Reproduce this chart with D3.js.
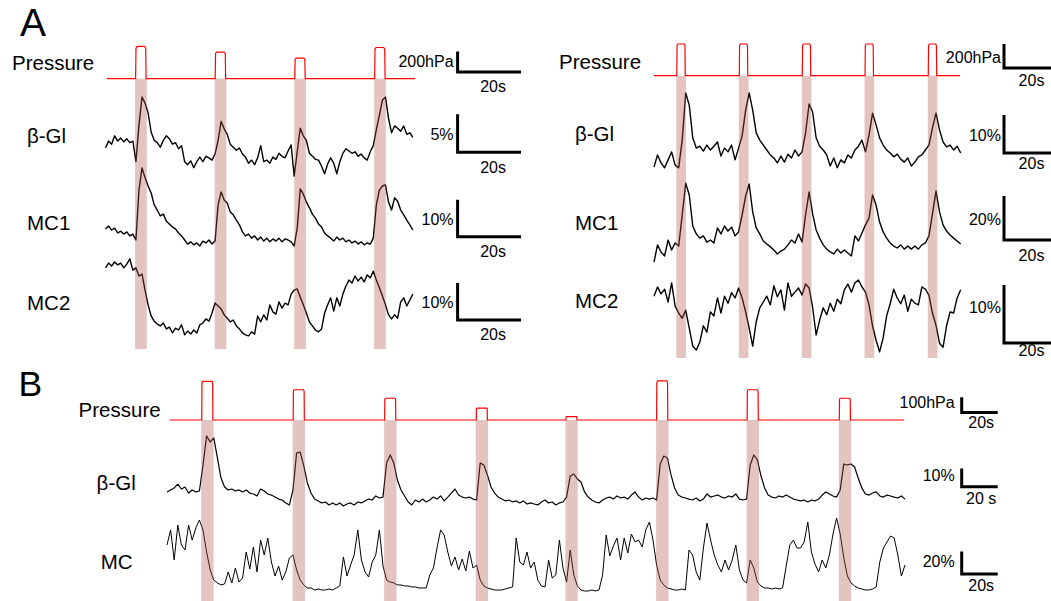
<!DOCTYPE html>
<html>
<head>
<meta charset="utf-8">
<script src="https://cdn.jsdelivr.net/npm/d3@7"></script>
<style>
body { margin: 0; background: #fff; }
svg { display: block; font-family: "Liberation Sans", Arial, sans-serif; }
</style>
</head>
<body>
<svg id="fig" width="1051" height="601"></svg>
<script>
"use strict";

// ---- panel A, left recording (sample interval 0.96 s, values in % dF/F) ----
const aLeftPulseStart = [9.5, 34.6, 59.7, 84.9];   // s
const aLeftPulseAmp = [315, 260, 200, 305];        // hPa
const aLeftBeta = [
	2.9,3.8,3.4,4.5,3.8,4.2,3.7,4.1,3.6,3.8, 1.1,5.9,9.6,8.8,7.5,5.0,3.9,3.6,3.0,3.9,
	4.5,4.1,3.4,3.6,2.8,3.2,1.1,0.7,1.2,0.3, 1.1,1.7,1.1,1.8,1.6,1.3,2.1,3.9,6.4,5.4,
	4.7,3.4,3.0,2.6,2.9,2.1,1.7,0.9,1.3,0.7, 1.6,3.2,1.1,1.3,0.9,1.7,1.4,2.2,1.8,1.6,
	2.5,3.3,-0.8,2.4,5.5,4.5,3.9,2.2,1.8,1.4, 1.3,0.5,-0.5,0.8,1.6,0.9,-0.5,1.1,2.2,2.8,
	2.5,2.2,2.4,1.8,2.1,1.6,1.3,2.4,3.2,5.3, 7.2,9.2,9.6,6.8,4.9,5.8,5.5,5.1,5.8,4.7,
	4.9,4.3];
const aLeftMC1 = [
	5.7,6.5,5.4,5.9,4.6,5.1,4.3,4.9,3.8,4.3, 2.7,16.2,22.2,19.5,17.3,15.4,12.2,10.8,9.2,9.7,
	7.8,7.0,6.2,5.7,4.6,3.8,2.7,1.6,2.2,1.4, 1.9,1.1,2.4,1.9,2.7,1.6,2.4,12.2,15.7,13.5,
	12.7,10.3,9.5,8.1,6.8,4.9,3.8,4.3,3.2,3.8, 2.7,3.5,2.4,3.2,2.2,3.0,2.4,3.2,2.2,3.0,
	2.7,2.2,1.1,5.9,16.5,15.1,13.0,11.4,9.7,8.6, 7.0,6.2,4.6,3.8,3.2,2.4,3.5,2.7,3.2,2.2,
	2.7,1.9,2.4,1.6,2.2,1.4,1.9,1.6,3.2,12.2, 16.2,17.3,17.6,13.0,10.8,14.1,13.2,10.8,9.5,8.1,
	6.8,5.4];
const aLeftMC2 = [
	19.5,20.8,20.0,21.1,20.3,20.8,19.5,20.5,21.9,18.9, 19.5,17.3,17.8,13.5,9.5,6.5,5.1,4.3,3.8,4.6,
	3.0,3.5,1.9,3.2,2.7,4.1,1.4,2.4,1.6,2.7, 1.9,4.1,4.6,5.7,5.1,7.3,10.0,9.2,8.4,6.8,
	5.9,4.9,5.4,3.8,3.0,1.9,1.4,1.1,2.2,1.6, 6.5,4.9,6.8,5.4,9.5,7.6,7.0,10.3,8.6,10.0,
	9.5,12.4,13.5,13.8,11.6,9.5,7.3,4.9,3.8,2.7, 2.2,3.0,7.3,9.5,11.4,7.8,11.4,9.2,12.4,14.6,
	16.2,15.4,17.3,15.9,17.0,15.7,17.6,16.8,18.6,16.2, 14.1,11.9,9.5,6.8,5.7,6.8,5.9,10.3,11.4,9.2,
	10.8,12.4];

// ---- panel A, right recording (sample interval 1.5 s) ----
const aRightPulseStart = [9.7, 36.3, 63.1, 89.8, 116.7];
const aRightPulseAmp = [264, 264, 264, 264, 264];
const aRightBeta = [
	3.4,6.6,4.5,3.2,5.3,7.4,3.9,3.2,10.5,22.9, 19.7,11.1,8.4,8.9,7.6,9.2,7.9,8.9,10.0,6.3,
	8.4,7.4,9.2,5.3,8.4,11.6,18.4,22.9,18.4,12.4, 10.5,9.2,7.9,6.6,5.8,4.5,6.3,4.7,6.8,5.8,
	7.9,6.3,7.4,12.4,20.0,17.9,11.1,8.9,7.9,6.6, 3.7,5.8,3.2,5.3,4.5,6.6,5.8,7.9,8.9,10.5,
	7.4,11.8,17.6,14.5,11.1,9.2,7.9,7.1,6.1,6.8, 5.5,4.7,5.8,3.7,4.7,6.1,6.6,7.9,9.2,13.7,
	17.6,13.2,10.0,8.7,9.2,7.9,8.9,7.1];
const aRightMC1 = [
	3.6,11.4,8.2,6.4,13.6,9.1,12.3,10.9,25.0,39.5, 34.1,20.0,16.4,14.5,15.5,12.7,13.6,12.3,19.1,16.4,
	20.0,17.7,19.5,15.5,17.3,25.0,33.6,39.1,26.4,19.1, 16.4,13.2,11.8,10.5,9.1,7.3,8.6,9.5,11.4,13.6,
	12.3,16.4,12.7,25.0,35.5,25.5,18.2,14.5,11.4,9.5, 8.2,7.3,9.5,7.7,9.1,7.7,6.4,15.5,13.2,16.8,
	20.5,23.6,34.1,29.5,21.8,17.3,14.5,12.3,10.9,10.0, 11.4,9.5,10.9,9.5,10.9,9.5,11.4,12.3,15.5,25.5,
	35.9,26.4,20.5,17.7,15.9,14.5,13.2,11.8];
const aRightMC2 = [
	11.0,12.6,11.4,12.2,10.0,13.3,9.3,8.1,7.2,8.6, 5.5,2.4,1.7,3.1,5.9,4.8,8.3,7.6,10.7,8.1,
	11.0,9.8,11.6,10.7,12.4,10.7,8.3,5.5,2.4,6.6, 9.0,10.0,11.0,9.5,12.8,10.9,12.1,8.6,13.3,11.0,
	11.7,12.4,11.2,13.1,12.4,9.1,4.3,6.9,9.0,7.8, 9.8,8.4,10.5,9.7,12.1,13.1,11.7,13.3,13.8,12.6,
	11.7,9.5,5.9,3.4,1.4,3.8,7.6,9.7,12.2,10.7, 9.7,11.2,8.4,10.5,9.8,9.5,12.6,12.2,11.2,8.1,
	6.0,2.9,2.2,5.9,8.3,8.1,10.7,12.1];

// ---- panel B (sample interval 2 s) ----
const bPulseStart = [19.3, 70.1, 120.9, 171.8, 221.6, 272.0, 322.3, 373.5];
const bPulseAmp = [254, 199, 143, 78, 22, 257, 199, 143];
const bBeta = [
	4.4,5.5,6.6,8.7,6.0,7.1,3.8,5.5,4.4,4.9, 19.1,35.0,31.7,33.9,23.0,12.0,7.1,5.5,6.0,4.9,
	5.5,4.4,5.5,3.8,3.3,2.2,6.0,4.9,3.3,2.7, 1.6,0.5,0,-1.6,-2.7,5.5,25.7,26.2,18.6,9.3,
	3.8,0.5,-0.5,-1.6,-1.1,-2.7,-1.6,-2.7,-1.6,-3.3, -2.2,-1.6,-2.7,-1.1,-1.6,-0.5,0.5,0,2.2,1.1,
	1.6,20.2,24.6,20.2,10.9,5.5,2.2,-1.1,-2.7,0, -1.1,0.5,-1.1,0,1.6,0.5,2.2,-0.5,1.6,3.8,
	6.0,2.7,1.6,1.1,1.6,0.5,0,20.2,19.1,13.7, 7.1,3.8,1.6,0.5,-0.5,0,-1.1,-0.5,-1.6,-0.5,
	-2.2,-1.6,-2.2,-2.7,-1.1,0,-1.6,-1.1,-2.7,-1.6, -1.1,1.6,13.1,14.2,11.5,9.8,4.4,1.6,0,-1.1,
	-1.6,0,1.1,1.6,0.5,2.2,1.1,1.6,0.5,2.7, 4.4,1.6,0,1.1,0.5,1.1,0,19.7,24.0,23.0,
	13.7,6.6,2.7,1.6,1.1,0.5,0,1.1,-0.5,0.5, 3.3,1.6,2.2,2.7,1.6,1.1,2.2,1.6,3.3,0.5,
	0,0.5,19.1,24.6,21.9,13.1,6.6,2.7,1.6,1.1, 2.2,1.6,2.7,1.6,0.5,0,-0.5,0,-1.1,0,
	-0.5,0.5,2.7,4.4,3.3,2.2,1.6,5.5,19.7,19.1, 19.7,18.0,12.0,6.6,3.3,2.7,3.8,4.4,2.2,1.6,
	2.7,2.2,1.6,1.1,2.2,0.5];
const bMC = [
	40.2,53.6,26.8,58.0,40.2,35.7,58.0,44.6,55.4,62.5, 53.6,33.9,17.9,8.9,6.3,4.5,5.4,16.1,6.3,19.6,
	7.1,10.7,33.9,18.8,38.4,16.1,44.6,31.3,46.4,25.0, 12.5,21.4,8.9,16.1,28.6,31.3,17.9,8.9,4.5,1.8,
	1.8,0,0.9,0,0,0.9,0,1.8,3.6,29.5, 12.5,22.3,31.3,53.6,26.8,16.1,11.6,25.0,31.3,53.6,
	21.4,8.9,7.1,6.3,4.5,4.5,3.6,3.6,2.7,2.7, 1.8,1.8,1.8,13.4,19.6,37.5,53.6,49.1,33.9,21.4,
	29.5,17.9,27.7,17.0,34.8,19.6,22.3,8.9,3.6,1.8, 0.9,0,0,0,0.9,1.8,2.7,46.4,25.0,22.3,
	33.9,19.6,25.0,8.9,3.6,2.7,26.8,10.7,13.4,44.6, 19.6,7.1,35.7,13.4,3.6,0,-0.9,-0.9,0,-0.9,
	0,13.4,49.1,30.4,39.3,46.4,26.8,46.4,33.0,50.0, 42.9,44.6,38.4,53.6,60.7,44.6,22.3,8.9,4.5,1.8,
	0.9,0,0,0.9,0,35.7,31.3,16.1,8.9,37.5, 59.8,44.6,31.3,22.3,16.1,26.8,17.9,26.8,40.2,17.9,
	8.9,6.3,26.8,19.6,7.1,3.6,1.8,1.8,0.9,1.8, 0.9,1.8,21.4,40.2,44.6,37.5,37.5,42.9,60.7,33.9,
	23.2,16.1,26.8,19.6,31.3,50.0,64.3,50.0,28.6,12.5, 6.3,3.6,1.8,0.9,0,0,0.9,2.7,25.0,37.5,
	42.9,48.2,46.4,31.3,12.5,22.3];

const panels = [
	{
		x0: 105.5, pxPerS: 3.17, bx: 457.6, textGap: 4, secShift: 3.8,
		recStart: 0.4, recEnd: 97.7, pulseDur: 3.3, pulseStart: aLeftPulseStart, pulseAmp: aLeftPulseAmp,
		band: [78.6, 349],
		pressure: { y0: 78.6, bar: 200, barPx: 20.4, barTop: 51.5, text: '200hPa', textY: 61, secY: 86.4, labelX: 12, labelY: 62.7 },
		traces: [
			{ name: 'β-Gl', values: aLeftBeta, dt: 0.96, y0: 170, bar: 5, barPx: 38, barTop: 114.2, labelX: 27, labelY: 135.6, text: '5%', textY: 134, secY: 167.8 },
			{ name: 'MC1', values: aLeftMC1, dt: 0.96, y0: 250, bar: 10, barPx: 37, barTop: 199.8, labelX: 27, labelY: 222.5, text: '10%', textY: 219.2, secY: 251.4 },
			{ name: 'MC2', values: aLeftMC2, dt: 0.96, y0: 340, bar: 10, barPx: 37, barTop: 282.9, labelX: 27, labelY: 302.2, text: '10%', textY: 302.2, secY: 334.4 }
		]
	},
	{
		x0: 654, pxPerS: 2.35, bx: 1004, textGap: 3, secShift: 4,
		recStart: 0, recEnd: 130.2, pulseDur: 3.6, pulseStart: aRightPulseStart, pulseAmp: aRightPulseAmp,
		band: [75.7, 358],
		pressure: { y0: 75.7, bar: 200, barPx: 24, barTop: 44, text: '200hPa', textY: 57, secY: 80, labelX: 559, labelY: 61.7 },
		traces: [
			{ name: 'β-Gl', values: aRightBeta, dt: 1.5, y0: 180, bar: 10, barPx: 38, barTop: 115, labelX: 575, labelY: 133.3, text: '10%', textY: 135, secY: 163 },
			{ name: 'MC1', values: aRightMC1, dt: 1.5, y0: 270, bar: 20, barPx: 44, barTop: 196, labelX: 575, labelY: 222, text: '20%', textY: 219, secY: 255 },
			{ name: 'MC2', values: aRightMC2, dt: 1.5, y0: 360, bar: 10, barPx: 58, barTop: 285, labelX: 575, labelY: 300, text: '10%', textY: 307, secY: 350 }
		]
	},
	{
		x0: 167, pxPerS: 1.8, bx: 961.7, textGap: 7, secShift: 1.5,
		recStart: 1.4, recEnd: 409.5, pulseDur: 6.2, pulseStart: bPulseStart, pulseAmp: bPulseAmp,
		band: [420, 601],
		pressure: { y0: 420, bar: 100, barPx: 15.2, barTop: 397.3, text: '100hPa', textY: 402.4, secY: 422.7, labelX: 78.6, labelY: 409.2 },
		traces: [
			{ name: 'β-Gl', values: bBeta, dt: 2, y0: 500, bar: 10, barPx: 18.3, barTop: 468.5, labelX: 96.6, labelY: 482, text: '10%', textY: 475.3, secY: 498.3, secText: '20 s', sw: 1.2 },
			{ name: 'MC', values: bMC, dt: 2, y0: 590, bar: 20, barPx: 22.4, barTop: 551.5, labelX: 100.7, labelY: 561.7, text: '20%', textY: 561.7, secY: 585.4, sw: 1 }
		]
	}
];

const svg = d3.select('#fig');

// step waveform of the pressure pulses, slightly rounded at the top corners
function pulsePoints(p) {
	const pts = [[p.recStart, 0]];
	p.pulseStart.forEach((s, i) => {
		const a = p.pulseAmp[i], d = p.pulseDur;
		pts.push([s, 0], [s + 0.12, a * 0.95], [s + 0.45, a], [s + d - 0.45, a], [s + d - 0.12, a * 0.95], [s + d, 0]);
	});
	pts.push([p.recEnd, 0]);
	return pts;
}

function scaleBar(g, p, top, len, barLen, text, textY, secText, secY) {
	g.append('path')
		.attr('d', `M${p.bx},${top}V${top + len}H${p.bx + barLen}`)
		.attr('fill', 'none')
		.attr('stroke', '#000')
		.attr('stroke-width', 3);
	g.append('text')
		.attr('x', p.bx - p.textGap)
		.attr('y', textY)
		.attr('text-anchor', 'end')
		.attr('dominant-baseline', 'central')
		.attr('font-size', 16)
		.text(text);
	g.append('text')
		.attr('x', p.bx + barLen / 2 + p.secShift)
		.attr('y', secY)
		.attr('text-anchor', 'middle')
		.attr('dominant-baseline', 'central')
		.attr('font-size', 16)
		.text(secText);
}

panels.forEach(p => {
	const g = svg.append('g');
	const x = d3.scaleLinear().domain([0, 100]).range([p.x0, p.x0 + 100 * p.pxPerS]);
	const barLen = x(20) - x(0);

	// fluorescence traces
	p.traces.forEach(tr => {
		const y = d3.scaleLinear().domain([0, tr.bar]).range([tr.y0, tr.y0 - tr.barPx]);
		g.append('path')
			.datum(tr.values)
			.attr('fill', 'none')
			.attr('stroke', '#000')
			.attr('stroke-width', tr.sw || 1.4)
			.attr('stroke-linejoin', 'round')
			.attr('d', d3.line().x((d, i) => x(i * tr.dt)).y(d => y(d)));
		g.append('text')
			.attr('x', tr.labelX)
			.attr('y', tr.labelY)
			.attr('dominant-baseline', 'central')
			.attr('font-size', 20.5)
			.text(tr.name);
		scaleBar(g, p, tr.barTop, y(0) - y(tr.bar), barLen, tr.text, tr.textY, tr.secText || '20s', tr.secY);
	});

	// stimulus bands over the traces
	g.selectAll('rect.band')
		.data(p.pulseStart)
		.enter().append('rect')
		.attr('class', 'band')
		.attr('x', d => x(d) - 0.5)
		.attr('y', p.band[0])
		.attr('width', d => x(d + p.pulseDur) - x(d) + 1.2)
		.attr('height', p.band[1] - p.band[0])
		.attr('fill', 'rgb(176,81,73)')
		.attr('fill-opacity', 0.34);

	// pressure trace
	const pr = p.pressure;
	const yp = d3.scaleLinear().domain([0, pr.bar]).range([pr.y0, pr.y0 - pr.barPx]);
	g.append('path')
		.datum(pulsePoints(p))
		.attr('fill', 'none')
		.attr('stroke', '#ff0000')
		.attr('stroke-width', 1.2)
		.attr('d', d3.line().x(d => x(d[0])).y(d => yp(d[1])));
	g.append('text')
		.attr('x', pr.labelX)
		.attr('y', pr.labelY)
		.attr('dominant-baseline', 'central')
		.attr('font-size', 20.5)
		.text('Pressure');
	scaleBar(g, p, pr.barTop, yp(0) - yp(pr.bar), barLen, pr.text, pr.textY, '20s', pr.secY);
});

// panel letters
svg.append('text').attr('x', 20).attr('y', 35.6).attr('font-size', 39).text('A');
svg.append('text').attr('x', 18.5).attr('y', 395.6).attr('font-size', 35.5).text('B');
</script>
</body>
</html>
